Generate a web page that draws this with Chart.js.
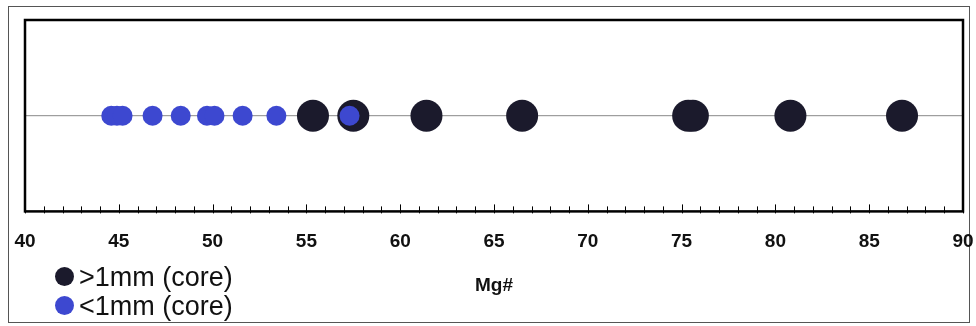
<!DOCTYPE html>
<html>
<head>
<meta charset="utf-8">
<script src="https://cdn.jsdelivr.net/npm/chart.js@4.4.0/dist/chart.umd.min.js"></script>
<style>
  body { margin: 0; background: #fff; overflow: hidden; }
  #wrap { position: relative; width: 976px; height: 326px; overflow: hidden; }
  #grafica { position: absolute; left: 0; top: 0; }
  #frame { position: absolute; left: 8px; top: 6px; width: 960px; height: 315px; border: 1px solid #555; }
  #legend { position: absolute; left: 55px; top: 263px; font-family: Arial, "Liberation Sans", sans-serif; font-size: 27px; color: #111; line-height: 29px; }
  #legend span.dot { display: inline-block; width: 19px; height: 19px; border-radius: 50%; margin-right: 5px; vertical-align: 0px; }
</style>
</head>
<body>
<div id="wrap">
  <div id="frame"></div>
  <canvas id="grafica" width="996" height="326"></canvas>
  <div id="legend"></div>
</div>
<script>
// valores Mg#
const mgGrandes = [55.35, 57.5, 61.4, 66.5, 75.35, 75.6, 80.8, 86.75];   // >1mm (core)
const mgPequenos = [44.6, 44.9, 45.2, 46.8, 48.3, 49.7, 50.1, 51.6, 53.4, 57.3]; // <1mm (core)
const etiquetasSerie = [">1mm (core)", "<1mm (core)"];
const coloresSerie = ["#1b1a2c", "#3d48d0"];
const ejeMin = 40, ejeMax = 90;

// marco del area de trazado y marcas menores del eje
const marcoPlugin = {
    id: 'marco',
    afterDraw(chart) {
        const {ctx, chartArea: a, scales} = chart;
        ctx.save();
        ctx.strokeStyle = '#000';
        ctx.lineWidth = 1;
        for (let v = ejeMin; v <= ejeMax; v++) {
            const x = Math.round(scales.x.getPixelForValue(v)) + 0.5;
            const largo = v % 5 === 0 ? 7 : 5;
            ctx.beginPath();
            ctx.moveTo(x, a.bottom - largo);
            ctx.lineTo(x, a.bottom + 2);
            ctx.stroke();
        }
        ctx.lineWidth = 2.5;
        ctx.strokeRect(a.left, a.top, a.right - a.left, a.bottom - a.top);
        ctx.restore();
    }
};

const ctx = document.getElementById('grafica').getContext('2d');
const grafica = new Chart(ctx, {
    type: 'scatter',
    data: {
        datasets: [
            {
                label: 'linea',
                type: 'line',
                data: [{x: ejeMin, y: 0}, {x: ejeMax, y: 0}],
                borderColor: '#888',
                borderWidth: 1,
                pointRadius: 0,
                order: 3
            },
            {
                label: etiquetasSerie[0],
                data: mgGrandes.map(v => ({x: v, y: 0})),
                backgroundColor: coloresSerie[0],
                borderWidth: 0,
                pointRadius: 16,
                order: 2
            },
            {
                label: etiquetasSerie[1],
                data: mgPequenos.map(v => ({x: v, y: 0})),
                backgroundColor: coloresSerie[1],
                borderWidth: 0,
                pointRadius: 10,
                order: 1
            }
        ]
    },
    options: {
        responsive: false,
        animation: false,
        layout: { padding: { left: 25, right: 33, top: 20, bottom: 25 } },
        plugins: { legend: { display: false }, tooltip: { enabled: false } },
        scales: {
            x: {
                type: 'linear',
                min: ejeMin,
                max: ejeMax,
                afterFit(scale) {
                    // sin margen extra por las etiquetas de los extremos
                    scale.paddingLeft = 0;
                    scale.paddingRight = 0;
                },
                ticks: {
                    stepSize: 5,
                    color: '#111',
                    padding: 11,
                    font: { family: 'Arial, "Liberation Sans"', size: 19, weight: 'bold' }
                },
                grid: { display: false },
                border: { display: false },
                title: {
                    display: true,
                    text: 'Mg#',
                    color: '#111',
                    padding: { top: 10 },
                    font: { family: 'Arial, "Liberation Sans"', size: 19, weight: 'bold' }
                }
            },
            y: { display: false, min: -1, max: 1 }
        }
    },
    plugins: [marcoPlugin]
});

document.getElementById('legend').innerHTML = etiquetasSerie
    .map((t, i) => `<div><span class="dot" style="background:${coloresSerie[i]}"></span>${t}</div>`)
    .join('');
</script>
</body>
</html>
